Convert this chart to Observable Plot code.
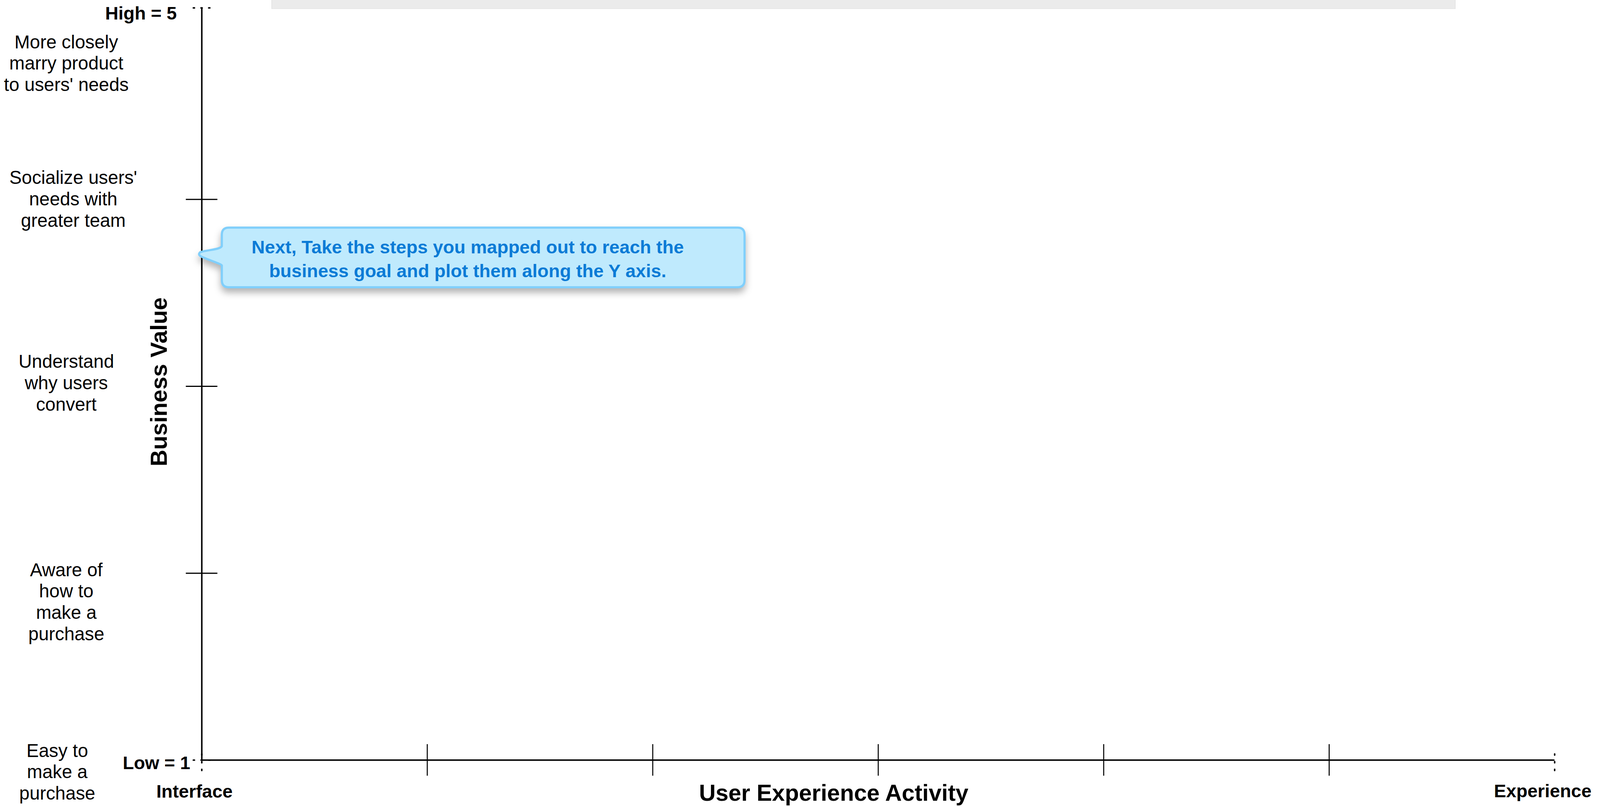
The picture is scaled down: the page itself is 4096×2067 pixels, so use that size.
<!DOCTYPE html>
<html>
<head>
<meta charset="utf-8">
<script src="https://cdn.jsdelivr.net/npm/d3@7"></script>
<script src="https://cdn.jsdelivr.net/npm/@observablehq/plot@0.6"></script>
<style>
  html, body { margin: 0; padding: 0; background: #ffffff; }
  #wrap { position: relative; width: 4096px; height: 2067px; overflow: hidden; background: #ffffff; }
  #bar { position: absolute; left: 695px; top: 0; width: 3031px; height: 22.7px; background: #ebebeb;
         border-left: 1px solid #d9d9d9; border-right: 1px solid #d9d9d9; border-bottom: 1px solid #e2e2e2; box-sizing: border-box; }
</style>
</head>
<body>
<div id="wrap"></div>
<script>
// ---- data ----
const xLevels = [0, 1, 2, 3, 4, 5, 6];          // user experience activity scale
const yLevels = [1, 2, 3, 4, 5];                // business value scale
const xEndLabels = ["Interface", "Experience"];
const yEndLabels = ["Low = 1", "High = 5"];
const xTitle = "User Experience Activity";
const yTitle = "Business Value";
const stepLabels = [
  "More closely\nmarry product\nto users' needs",
  "Socialize users'\nneeds with\ngreater team",
  "Understand\nwhy users\nconvert",
  "Aware of\nhow to\nmake a\npurchase",
  "Easy to\nmake a\npurchase"
];
const stepValue = [4.58, 3.854, 2.87, 1.642, 0.789];    // where each step label sits on the value axis
const stepX = [-0.601, -0.570, -0.601, -0.601, -0.641]; // where each label sits along the activity axis
const calloutText = "Next, Take the steps you mapped out to reach the\nbusiness goal and plot them along the Y axis.";
const calloutAt = [{x: 0, y: 3.71}];

// ---- styles ----
const FONT = "'Liberation Sans', Arial, Helvetica, sans-serif";
const inner = xLevels.slice(1, -1);
const innerY = yLevels.slice(1, -1);
const dotted = {stroke: "black", strokeWidth: 3.9, strokeLinecap: "round", strokeDasharray: "2.95,16.75"};

function bubble(index, scales) {
  const ns = "http://www.w3.org/2000/svg";
  const g = document.createElementNS(ns, "g");
  const c = calloutAt[0];
  const ax = scales.x(c.x), ay = scales.y(c.y);
  const L = ax + 51.8, R = ax + 1389.9, T = ay - 66, B = ay + 86.7, r = 18;
  const d = [
    `M${L + r},${T}`, `H${R - r}`, `Q${R},${T} ${R},${T + r}`, `V${B - r}`, `Q${R},${B} ${R - r},${B}`,
    `H${L + r}`, `Q${L},${B} ${L},${B - r}`, `V${ay + 30.6}`,
    `C${L - 2},${ay + 26} ${ax + 3},${ay + 12} ${ax - 4},${ay + 6}`,
    `Q${ax - 9},${ay + 2} ${ax - 4},${ay - 3}`,
    `C${ax + 10},${ay - 9} ${L - 4},${ay - 9} ${L},${ay - 18.7}`,
    `V${T + r}`, `Q${L},${T} ${L + r},${T}`, "Z"
  ].join(" ");
  const p = document.createElementNS(ns, "path");
  p.setAttribute("d", d);
  p.setAttribute("fill", "#bfeafd");
  p.setAttribute("stroke", "#80cffb");
  p.setAttribute("stroke-width", 5.5);
  p.setAttribute("stroke-linejoin", "round");
  p.style.filter = "drop-shadow(0px 11px 9px rgba(0,0,0,0.30))";
  g.appendChild(p);
  return g;
}

const chart = Plot.plot({
  width: 4096,
  height: 2067,
  marginLeft: 516.1,
  marginRight: 116.6,
  marginTop: 19.7,
  marginBottom: 120.6,
  style: {background: "white", fontFamily: FONT, overflow: "visible"},
  x: {domain: [0, 6], axis: null},
  y: {domain: [1, 5], range: [1946.4, 31.6], axis: null},
  marks: [
    // axis lines
    Plot.ruleX([0], {stroke: "black", strokeWidth: 3.8}),
    Plot.ruleY([1], {stroke: "black", strokeWidth: 3.8}),
    // solid crossing ticks
    Plot.ruleY(innerY, {x1: 0, x2: 0, insetLeft: -40.4, insetRight: -40.4, stroke: "black", strokeWidth: 3}),
    Plot.ruleX(inner, {y1: 1, y2: 1, insetTop: -40.4, insetBottom: -40.4, stroke: "black", strokeWidth: 2.6}),
    // dotted end ticks
    Plot.ruleY([yLevels[0]], {x1: 0, x2: 0, insetLeft: -21.2, insetRight: -21.2, ...dotted}),
    Plot.ruleY([yLevels[yLevels.length - 1]], {x1: 0, x2: 0, insetLeft: -21.2, insetRight: -21.2, dy: -11.9, ...dotted}),
    Plot.ruleX([xLevels[0], xLevels[xLevels.length - 1]], {y1: 1, y2: 1, insetTop: -15.3, insetBottom: -27.1, ...dotted}),
    // end labels
    Plot.text([yEndLabels[1]], {x: 0, y: 5, text: d => d, textAnchor: "end", lineAnchor: "bottom", dx: -64, dy: 17.65,
      fontSize: 46.8, fontWeight: "bold", fill: "black", fontFamily: FONT}),
    Plot.text([yEndLabels[0]], {x: 0, y: 1, text: d => d, textAnchor: "end", lineAnchor: "bottom", dx: -29.5, dy: 22.6,
      fontSize: 46.8, fontWeight: "bold", fill: "black", fontFamily: FONT}),
    Plot.text([xEndLabels[0]], {x: xLevels[0], y: 1, text: d => d, textAnchor: "middle", lineAnchor: "bottom", dx: -18.7, dy: 95.6,
      fontSize: 46.8, fontWeight: "bold", fill: "black", fontFamily: FONT}),
    Plot.text([xEndLabels[1]], {x: xLevels[xLevels.length - 1], y: 1, text: d => d, textAnchor: "middle", lineAnchor: "bottom", dx: -30.6, dy: 94.6,
      fontSize: 46.8, fontWeight: "bold", fill: "black", fontFamily: FONT}),
    // axis titles
    Plot.text([xTitle], {x: 3, y: 1, text: d => d, textAnchor: "middle", lineAnchor: "bottom", dx: -114, dy: 104.1,
      fontSize: 59, fontWeight: "bold", fill: "black", fontFamily: FONT}),
    Plot.text([yTitle], {x: 0, y: 3, text: d => d, rotate: -90, textAnchor: "middle", lineAnchor: "bottom", dx: -89.6, dy: -11.4,
      fontSize: 59, fontWeight: "bold", fill: "black", fontFamily: FONT}),
    // step labels along the value axis
    Plot.text(stepLabels, {x: (d, i) => stepX[i], y: (d, i) => stepValue[i], text: d => d, textAnchor: "middle", lineAnchor: "bottom",
      lineHeight: 1.156, fontSize: 47.3, fill: "black", fontFamily: FONT}),
    // callout
    bubble,
    Plot.text(calloutAt, {x: "x", y: "y", text: () => calloutText, textAnchor: "middle", lineAnchor: "bottom", lineHeight: 1.3085,
      dx: 680.7, dy: 60.8, fontSize: 47, fontWeight: "bold", fill: "#0b7bd6", fontFamily: FONT})
  ]
});

const wrap = document.getElementById("wrap");
wrap.appendChild(chart);
const bar = document.createElement("div");
bar.id = "bar";
wrap.appendChild(bar);
</script>
</body>
</html>
